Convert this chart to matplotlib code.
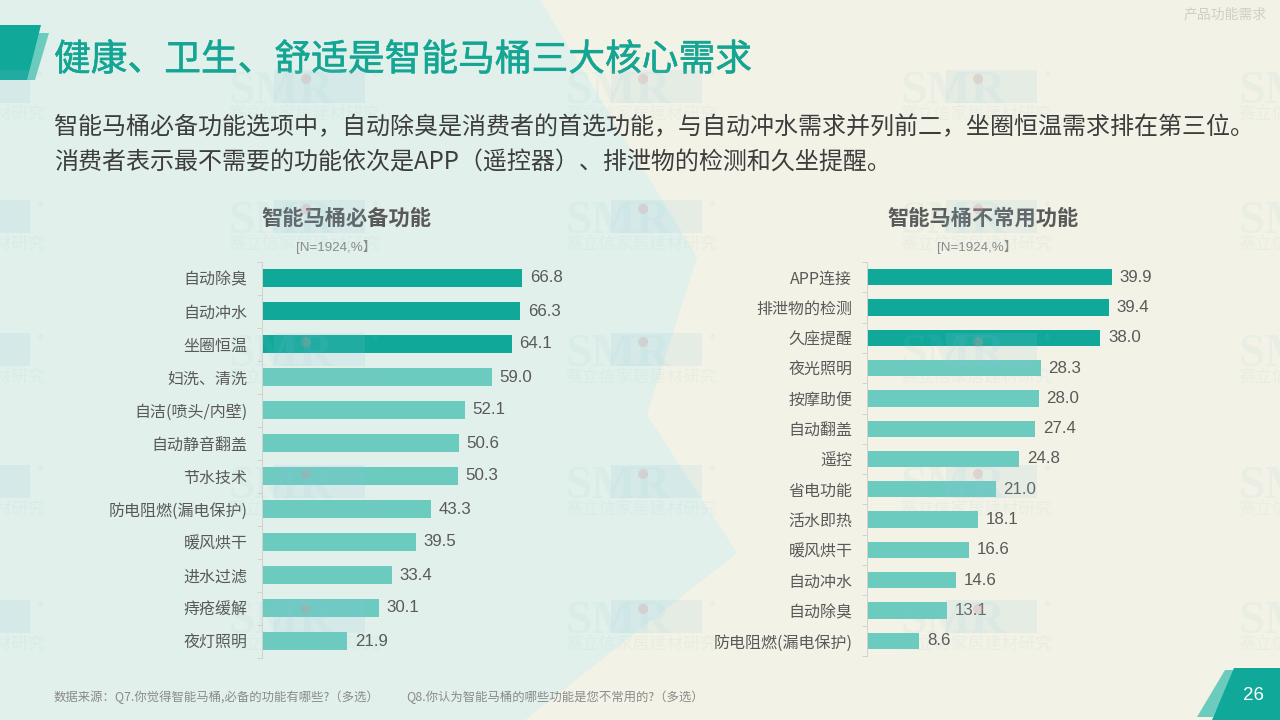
"""Smart toilet feature survey slide: must-have vs rarely used functions."""

import matplotlib

matplotlib.use("Agg")

import matplotlib.patheffects as pe
import matplotlib.pyplot as plt
from matplotlib.patches import Circle, Polygon, Rectangle

plt.rcParams["font.family"] = ["Noto Sans CJK SC", "DejaVu Sans"]

W, H = 1280, 720

BG_COLOR = "#f3f2e6"
PANEL_COLOR = "#e1f0ea"
DARK = "#0fa899"
LIGHT = "#6ccbbf"
TEXT = "#595959"
LATIN = ["Liberation Sans", "Noto Sans CJK SC"]

TITLE = "健康、卫生、舒适是智能马桶三大核心需求"
INTRO_1 = "智能马桶必备功能选项中，自动除臭是消费者的首选功能，与自动冲水需求并列前二，坐圈恒温需求排在第三位。"
INTRO_2 = "消费者表示最不需要的功能依次是APP（遥控器）、排泄物的检测和久坐提醒。"
SOURCE_1 = "数据来源：Q7.你觉得智能马桶,必备的功能有哪些?（多选）"
SOURCE_2 = "Q8.你认为智能马桶的哪些功能是您不常用的?（多选）"
SAMPLE_NOTE = "[N=1924,%】"

MUST_TITLE = "智能马桶必备功能"
MUST_LABELS = ["自动除臭", "自动冲水", "坐圈恒温", "妇洗、清洗", "自洁(喷头/内壁)", "自动静音翻盖",
               "节水技术", "防电阻燃(漏电保护)", "暖风烘干", "进水过滤", "痔疮缓解", "夜灯照明"]
MUST_VALUES = [66.8, 66.3, 64.1, 59.0, 52.1, 50.6, 50.3, 43.3, 39.5, 33.4, 30.1, 21.9]

RARE_TITLE = "智能马桶不常用功能"
RARE_LABELS = ["APP连接", "排泄物的检测", "久座提醒", "夜光照明", "按摩助便", "自动翻盖", "遥控",
               "省电功能", "活水即热", "暖风烘干", "自动冲水", "自动除臭", "防电阻燃(漏电保护)"]
RARE_VALUES = [39.9, 39.4, 38.0, 28.3, 28.0, 27.4, 24.8, 21.0, 18.1, 16.6, 14.6, 13.1, 8.6]

WATERMARK_X = [-107, 228, 565, 900, 1238]
WATERMARK_Y = [70, 200, 333, 465, 600]


def draw_background(bg):
    bg.add_patch(Rectangle((0, 0), W, H, color=BG_COLOR, zorder=0))
    bg.add_patch(Polygon([(0, 0), (540, 0), (697, 257), (647, 415), (737, 553), (525, 720), (0, 720)],
                         color=PANEL_COLOR, lw=0, zorder=1))
    # header and page number flags
    bg.add_patch(Polygon([(27, 33), (49, 33), (35, 80), (27, 80)], color=LIGHT, lw=0, zorder=2))
    bg.add_patch(Polygon([(0, 25), (41, 25), (27, 80), (0, 80)], color=DARK, lw=0, zorder=3))
    bg.add_patch(Polygon([(1225, 670), (1236, 670), (1213, 717), (1197, 717)], color=LIGHT, lw=0, zorder=2))
    bg.add_patch(Polygon([(1234, 668), (1280, 668), (1280, 720), (1212, 720)], color=DARK, lw=0, zorder=3))


def draw_texts(bg):
    title = bg.text(54, 60, TITLE, fontsize=26.45, color="#14a594", va="center", ha="left", zorder=5)
    title.set_path_effects([pe.withStroke(linewidth=0.4, foreground="#14a594")])
    bg.text(54, 127, INTRO_1, fontsize=17.3, color="#3d3d3d", va="center", ha="left", zorder=5)
    bg.text(54, 162, INTRO_2, fontsize=17.3, color="#3d3d3d", va="center", ha="left", zorder=5)
    bg.text(54, 697, SOURCE_1, fontsize=8.9, color="#8a8a8a", va="center", ha="left", zorder=5)
    bg.text(406, 697, SOURCE_2, fontsize=8.9, color="#8a8a8a", va="center", ha="left", zorder=5)
    bg.text(1267, 14, "产品功能需求", fontsize=10, color="#cfcfc8", va="center", ha="right", zorder=5)
    bg.text(1253, 696, "26", fontsize=13.5, color="white", family="Liberation Sans", va="center", ha="center", zorder=5)
    bg.text(346, 218, MUST_TITLE, fontsize=15.3, color=TEXT, fontweight="bold", va="center", ha="center", zorder=5)
    bg.text(983, 218, RARE_TITLE, fontsize=15.3, color=TEXT, fontweight="bold", va="center", ha="center", zorder=5)
    bg.text(336, 247, SAMPLE_NOTE, fontsize=9.6, color="#8a8a8a", family=LATIN, va="center", ha="center", zorder=5)
    bg.text(977, 247, SAMPLE_NOTE, fontsize=9.6, color="#8a8a8a", family=LATIN, va="center", ha="center", zorder=5)


def draw_watermarks(wm):
    for x in WATERMARK_X:
        for y in WATERMARK_Y:
            wm.add_patch(Polygon([(x + 46, y), (x + 137, y), (x + 137, y + 33), (x + 46, y + 33)],
                                 color="#8fc8dc", alpha=0.14, lw=0))
            wm.text(x, y + 33, "SMR", fontsize=34, family="Liberation Serif", fontweight="bold",
                    color="#8fc8dc", alpha=0.09, va="baseline", ha="left")
            wm.add_patch(Circle((x + 78, y + 9), 5, color="#e58a8a", alpha=0.25, lw=0))
            wm.text(x + 147, y + 7, "®", fontsize=8, color="#8fc8dc", alpha=0.15, va="center", ha="center")
            wm.text(x, y + 45, "赛立信家居建材研究", fontsize=12.2, color="#8fc8dc", alpha=0.1, va="center", ha="left")


def draw_bars(fig, left, top, height, px_per_unit, labels, values):
    right = W - 10
    ax = fig.add_axes([left / W, 1 - (top + height) / H, (right - left) / W, height / H])
    ax.patch.set_alpha(0)
    n = len(values)
    colors = [DARK if i < 3 else LIGHT for i in range(n)]
    ax.barh(range(n), values, height=0.54, color=colors, zorder=2)
    ax.set_xlim(0, (right - left) / px_per_unit)
    ax.set_ylim(n - 0.5, -0.5)

    for i, v in enumerate(values):
        ax.annotate(f"{v:.1f}", (v, i), xytext=(5.5, 0), textcoords="offset points", va="center", ha="left",
                    fontsize=12.2, color=TEXT, family="Liberation Sans")

    ax.set_yticks(range(n))
    ax.set_yticklabels(labels, fontsize=11.5, color=TEXT)
    ax.set_yticks([i - 0.5 for i in range(n + 1)], minor=True)
    ax.tick_params(axis="y", which="major", length=0, pad=10.2)
    ax.tick_params(axis="y", which="minor", length=3.5, width=0.7, color="#d3d3cc")
    ax.xaxis.set_visible(False)
    for side in ("top", "right", "bottom"):
        ax.spines[side].set_visible(False)
    ax.spines["left"].set_color("#d3d3cc")
    ax.spines["left"].set_linewidth(0.7)
    return ax


def main():
    fig = plt.figure(figsize=(W / 100, H / 100), dpi=100)

    bg = fig.add_axes([0, 0, 1, 1], zorder=0)
    bg.set_xlim(0, W)
    bg.set_ylim(H, 0)
    bg.axis("off")
    draw_background(bg)
    draw_texts(bg)

    left_ax = draw_bars(fig, 261.5, 261.5, 396, 3.905, MUST_LABELS, MUST_VALUES)
    right_ax = draw_bars(fig, 866.5, 262, 394, 6.155, RARE_LABELS, RARE_VALUES)
    left_ax.set_zorder(1)
    right_ax.set_zorder(1)

    # the logo tiles sit faintly over everything, bars included
    wm = fig.add_axes([0, 0, 1, 1], zorder=2)
    wm.set_xlim(0, W)
    wm.set_ylim(H, 0)
    wm.axis("off")
    draw_watermarks(wm)

    fig.savefig("out.png", dpi=100)
    plt.close(fig)


if __name__ == "__main__":
    main()
